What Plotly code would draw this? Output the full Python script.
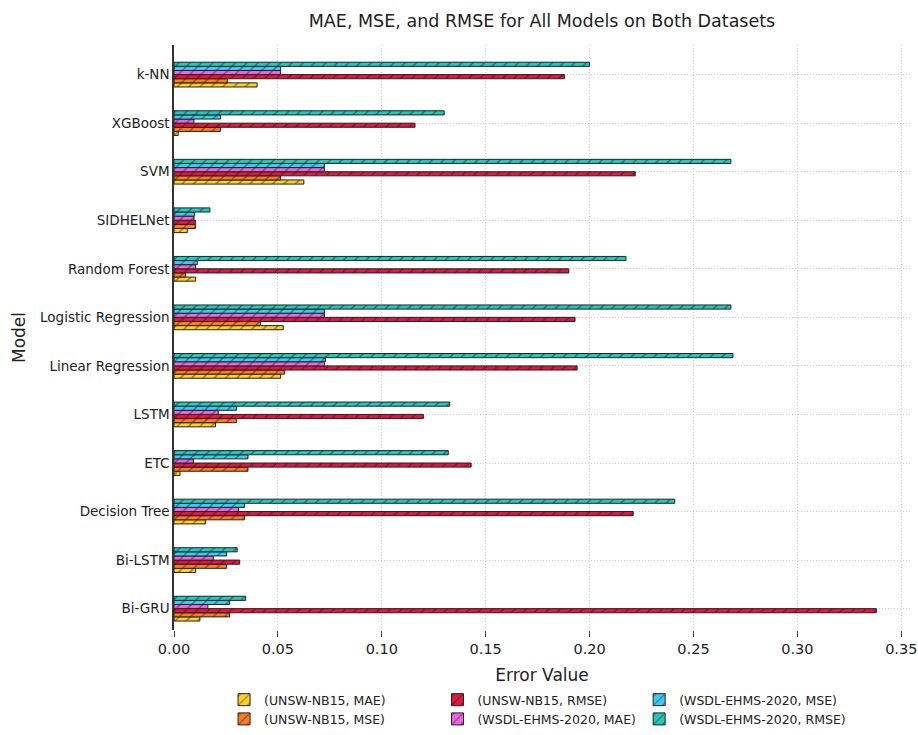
import plotly.graph_objects as go

# Models, listed bottom to top on the category axis
models = ["Bi-GRU", "Bi-LSTM", "Decision Tree", "ETC", "LSTM", "Linear Regression",
          "Logistic Regression", "Random Forest", "SIDHELNet", "SVM", "XGBoost", "k-NN"]

unsw_mae = [0.0125, 0.0104, 0.0152, 0.0029, 0.0200, 0.0513, 0.0526, 0.0104, 0.0064, 0.0625, 0.0020, 0.0400]
unsw_mse = [0.0268, 0.0253, 0.0340, 0.0356, 0.0300, 0.0532, 0.0417, 0.0056, 0.0103, 0.0513, 0.0224, 0.0257]
unsw_rmse = [0.3380, 0.0316, 0.2210, 0.1430, 0.1200, 0.1940, 0.1930, 0.1900, 0.0103, 0.2220, 0.1160, 0.1880]
wsdl_mae = [0.0163, 0.0189, 0.0310, 0.0093, 0.0213, 0.0724, 0.0724, 0.0104, 0.0096, 0.0724, 0.0096, 0.0513]
wsdl_mse = [0.0268, 0.0253, 0.0340, 0.0356, 0.0300, 0.0729, 0.0724, 0.0112, 0.0099, 0.0724, 0.0224, 0.0513]
wsdl_rmse = [0.0345, 0.0304, 0.2410, 0.1320, 0.1327, 0.2690, 0.2680, 0.2175, 0.0173, 0.2680, 0.1300, 0.2000]

series_names = ["(UNSW-NB15, MAE)", "(UNSW-NB15, MSE)", "(UNSW-NB15, RMSE)",
                "(WSDL-EHMS-2020, MAE)", "(WSDL-EHMS-2020, MSE)", "(WSDL-EHMS-2020, RMSE)"]
series_values = [unsw_mae, unsw_mse, unsw_rmse, wsdl_mae, wsdl_mse, wsdl_rmse]
series_colors = ["#FFD21F", "#FF7A1F", "#E3173E", "#EE66DD", "#3CCBF2", "#22C9BC"]
legend_ids = ["legend", "legend", "legend2", "legend2", "legend3", "legend3"]

FONT = "DejaVu Sans"
GRID = "#CFCFCF"

fig = go.Figure()
for name, vals, col, lg in zip(series_names, series_values, series_colors, legend_ids):
    fig.add_trace(go.Bar(
        y=models, x=vals, name=name, orientation="h",
        marker=dict(color=col, line=dict(color="#222222", width=1),
                    pattern=dict(shape="/", fgcolor="#111111", size=8, solidity=0.16,
                                 fillmode="overlay")),
        legend=lg,
    ))

legend_common = dict(orientation="v", yref="container", yanchor="top", xanchor="left",
                     y=0.068, traceorder="normal",
                     font=dict(family=FONT, size=12.5, color="#222222"),
                     bgcolor="rgba(0,0,0,0)", itemwidth=30, tracegroupgap=0)

fig.update_layout(
    width=918, height=735,
    margin=dict(l=174, r=8, t=45, b=105, autoexpand=False),
    paper_bgcolor="white", plot_bgcolor="white",
    barmode="group", bargap=0.49, bargroupgap=0,
    title=dict(text="MAE, MSE, and RMSE for All Models on Both Datasets",
               x=0.5, xref="paper", xanchor="center", y=0.972, yanchor="middle",
               font=dict(family=FONT, size=17.5, color="#222222")),
    font=dict(family=FONT, color="#222222"),
    legend=dict(x=0.068, **legend_common),
    legend2=dict(x=0.358, **legend_common),
    legend3=dict(x=0.632, **legend_common),
    xaxis=dict(range=[0, 0.3542], tickvals=[0, 0.05, 0.1, 0.15, 0.2, 0.25, 0.3, 0.35],
               tickformat=".2f", showgrid=True, gridcolor=GRID, griddash="1px,2px", gridwidth=1,
               zeroline=False, showline=False, ticks="outside", ticklen=6, tickcolor="#444444",
               tickfont=dict(family=FONT, size=14.5, color="#222222"),
               title=dict(text="Error Value", standoff=20,
                          font=dict(family=FONT, size=17, color="#222222"))),
    yaxis=dict(type="category", categoryorder="array", categoryarray=models,
               range=[-0.44, 11.61], showgrid=True, gridcolor=GRID, griddash="1px,2px",
               gridwidth=1, zeroline=False, showline=True, linecolor="#333333", linewidth=1.5,
               ticks="", tickfont=dict(family=FONT, size=13.5, color="#222222"),
               title=dict(text="Model", standoff=10,
                          font=dict(family=FONT, size=17, color="#222222"))),
)

fig.write_html("out.html")
